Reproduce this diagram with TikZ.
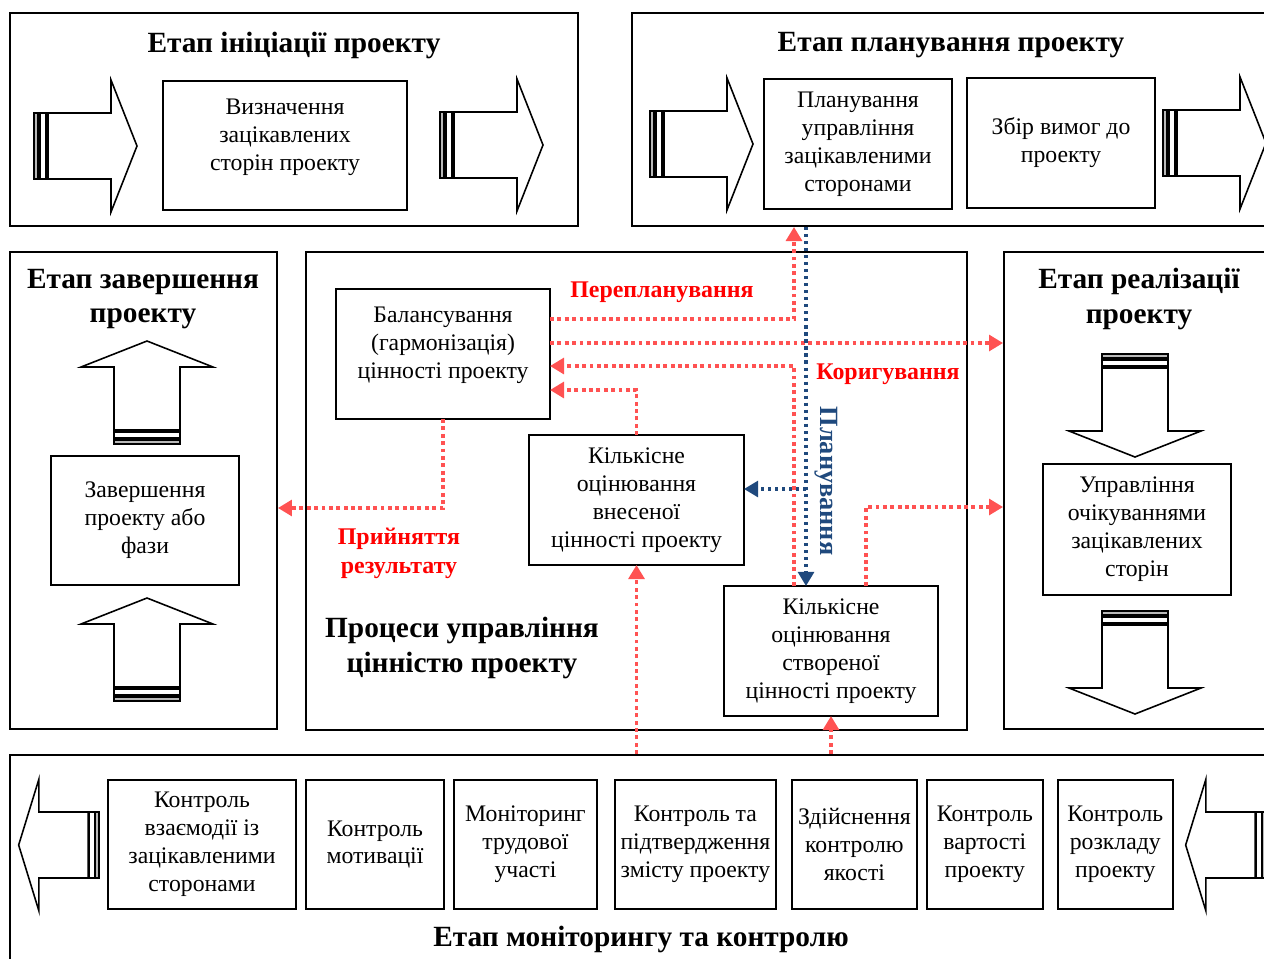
\documentclass[tikz,border=0pt]{standalone}
\usepackage{fontspec}
\setmainfont{Liberation Serif}
\usetikzlibrary{arrows.meta, positioning, calc}

\definecolor{flowred}{RGB}{255,82,82}
\definecolor{textred}{RGB}{255,0,0}
\definecolor{planblue}{RGB}{31,73,125}

\tikzset{
  pics/blockarrow/.style={code={
      \draw[line width=0.6pt, fill=gray!55] (0,-33) rectangle (4,33);
      \draw[line width=0.6pt, fill=white] (6,-33) rectangle (12,33);
      \draw[line width=0.9pt, fill=white] (14,-33) -- (77,-33) -- (77,-66) -- (103,0)
        -- (77,66) -- (77,33) -- (14,33) -- cycle;
  }}
}

\begin{document}
\begin{tikzpicture}[x=0.02cm, y=-0.02cm,
    panel/.style={draw, line width=1.1pt, inner sep=0pt},
    box/.style={draw, line width=1pt, inner sep=0pt, outer sep=0pt, align=center,
      font=\fontsize{13.5}{15.9}\selectfont},
    toptext/.style={anchor=north, align=center, inner sep=0pt, yshift=-10pt,
      font=\fontsize{13.5}{15.9}\selectfont},
    heading/.style={align=center, font=\fontsize{16.7}{19.6}\selectfont\bfseries},
    flowlabel/.style={align=center, text=textred, font=\fontsize{13.6}{16.4}\selectfont\bfseries},
    redflow/.style={draw=flowred, line width=2.2pt, dash pattern=on 2.2pt off 2pt,
      -{Triangle[length=8pt, width=9pt]}},
    blueflow/.style={draw=planblue, line width=1.8pt, dash pattern=on 1.8pt off 2.2pt,
      -{Triangle[length=8pt, width=9pt]}},
  ]
  \useasboundingbox (0,0) rectangle (1264,958);
  \clip (0,0) rectangle (1264,958);

  % phases
  \node[panel, minimum width=11.36cm, minimum height=4.26cm] (initp) at (294,119.5) {};
  \node[panel, minimum width=12.84cm, minimum height=4.26cm] (planp) at (953,119.5) {};
  \node[panel, minimum width=5.34cm, minimum height=9.54cm] (closep) at (143.5,490.5) {};
  \node[panel, minimum width=13.22cm, minimum height=9.56cm] (corep) at (636.5,491) {};
  \node[panel, minimum width=5.4cm, minimum height=9.54cm] (realp) at (1139,490.5) {};
  \node[panel, minimum width=25.28cm, minimum height=4.2cm] (monp) at (642,860) {};

  \node[heading] (inittitle) at (294,45) {Етап ініціації проекту};
  \node[heading] (plantitle) at (951,45) {Етап планування проекту};
  \node[heading] (closetitle) at (143,299) {Етап завершення\\проекту};
  \node[heading] (realtitle) at (1139,299) {Етап реалізації\\проекту};
  \node[heading] (coretitle) at (462,648) {Процеси управління\\цінністю проекту};
  \node[heading] (montitle) at (641,939) {Етап моніторингу та контролю};

  % big arrows
  \pic at (34,146) {blockarrow};
  \pic at (440,145) {blockarrow};
  \pic at (650,144) {blockarrow};
  \pic at (1163,143) {blockarrow};
  \pic[rotate=90] at (147,444) {blockarrow};
  \pic[rotate=90] at (147,701) {blockarrow};
  \pic[rotate=-90] at (1135,354) {blockarrow};
  \pic[rotate=-90] at (1135,611) {blockarrow};
  \pic[rotate=180, xscale=0.78] at (99,845) {blockarrow};
  \pic[rotate=180, xscale=0.78] at (1266,845) {blockarrow};

  % processes
  \node[box, minimum width=4.88cm, minimum height=2.58cm,
    label={[toptext]north:Визначення\\зацікавлених\\сторін проекту}] (defn) at (285,145.5) {};
  \node[box, minimum width=3.76cm, minimum height=2.6cm] (planbox) at (858,144)
    {Планування\\управління\\зацікавленими\\сторонами};
  \node[box, minimum width=3.76cm, minimum height=2.6cm] (req) at (1061,143) {Збір вимог до\\проекту};
  \node[box, minimum width=3.76cm, minimum height=2.58cm] (closebox) at (145,520.5)
    {Завершення\\проекту або\\фази};
  \node[box, minimum width=4.28cm, minimum height=2.6cm,
    label={[toptext]north:Балансування\\(гармонізація)\\цінності проекту}] (bal) at (443,354) {};
  \node[box, minimum width=4.3cm, minimum height=2.6cm] (inval) at (636.5,500)
    {Кількісне\\оцінювання\\внесеної\\цінності проекту};
  \node[box, minimum width=4.28cm, minimum height=2.6cm] (crval) at (831,651)
    {Кількісне\\оцінювання\\створеної\\цінності проекту};
  \node[box, minimum width=3.76cm, minimum height=2.62cm] (expect) at (1137,529.5)
    {Управління\\очікуваннями\\зацікавлених\\сторін};

  % monitoring row
  \node[box, minimum width=3.76cm, minimum height=2.58cm] (stake) at (202,844.5)
    {Контроль\\взаємодії із\\зацікавленими\\сторонами};
  \node[box, minimum width=2.76cm, minimum height=2.58cm, right=0.2cm of stake] (motiv)
    {Контроль\\мотивації};
  \node[box, minimum width=2.86cm, minimum height=2.58cm, right=0.2cm of motiv] (labour)
    {Моніторинг\\трудової\\участі};
  \node[box, minimum width=3.22cm, minimum height=2.58cm, right=0.36cm of labour] (scope)
    {Контроль та\\підтвердження\\змісту проекту};
  \node[box, minimum width=2.5cm, minimum height=2.58cm, right=0.32cm of scope] (quality)
    {Здійснення\\контролю\\якості};
  \node[box, minimum width=2.32cm, minimum height=2.58cm, right=0.2cm of quality] (cost)
    {Контроль\\вартості\\проекту};
  \node[box, minimum width=2.3cm, minimum height=2.58cm, right=0.3cm of cost] (sched)
    {Контроль\\розкладу\\проекту};

  % connectors
  \coordinate (trunkR) at (794,0);
  \coordinate (trunkB) at (806,0);
  \coordinate (replan) at ($(bal.east)+(0,-35)$);
  \coordinate (tophase) at ($(bal.east)+(0,-11)$);
  \coordinate (correct) at ($(bal.east)+(0,12)$);
  \coordinate (fromin) at ($(bal.east)+(0,36)$);
  \coordinate (accept) at ($(bal.south)+(0,89)$);
  \coordinate (toplan) at ($(inval.east)+(0,-11)$);
  \coordinate (crout) at ($(crval.north)+(35,0)$);

  \draw[redflow] (replan) -| (trunkR |- planp.south);
  \draw[redflow] (tophase) -- (tophase -| realp.west);
  \draw[redflow] (trunkR |- crval.north) |- (correct);
  \draw[redflow] (inval.north) |- (fromin);
  \draw[redflow] (bal.south) -- (accept) -- (accept -| closep.east);
  \draw[redflow] (crout) |- ($(realp.west)+(0,16.5)$);
  \draw[redflow] (inval.south |- monp.north) -- (inval.south);
  \draw[redflow] (crval.south |- monp.north) -- (crval.south);
  \draw[blueflow] (trunkB |- planp.south) -- (trunkB |- crval.north);
  \draw[blueflow] (toplan -| trunkB) -- (toplan);

  \node[flowlabel] (replanlbl) at (662,292) {Перепланування};
  \node[flowlabel] (corrlbl) at (888,374) {Коригування};
  \node[flowlabel] (acclbl) at (399,553) {Прийняття\\результату};
  \node[flowlabel, text=planblue, font=\fontsize{15}{18}\selectfont\bfseries, rotate=-90]
    (planlbl) at (826,481) {Планування};
\end{tikzpicture}
\end{document}
